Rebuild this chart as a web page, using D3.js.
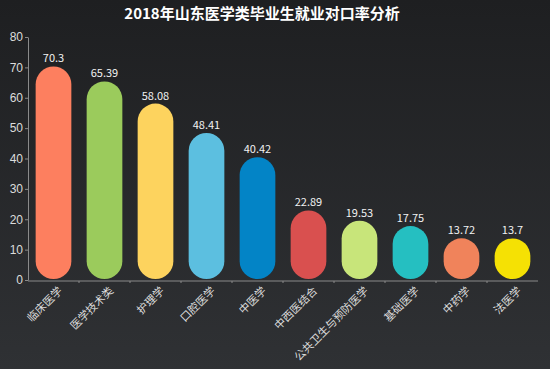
<!DOCTYPE html>
<html lang="zh">
<head>
    <meta charset="UTF-8">
    <title>2018年山东医学类毕业生就业对口率分析</title>
    <script src="https://d3js.org/d3.v7.min.js"></script>
    <style>
        html, body {
            margin: 0;
            padding: 0;
            overflow: hidden;
            font-family: "Noto Sans CJK SC", "Noto Sans", sans-serif;
        }
        .axis text {
            fill: #dcdcdc;
            font-size: 12px;
        }
        .axis line,
        .axis path {
            stroke: #8a8a8a;
            fill: none;
        }
        .value {
            fill: #f2f2f2;
            font-size: 11px;
            text-anchor: middle;
        }
    </style>
</head>
<body>
    <svg width="550" height="369"></svg>
    <script>
        var majors = ["临床医学", "医学技术类", "护理学", "口腔医学", "中医学",
                      "中西医结合", "公共卫生与预防医学", "基础医学", "中药学", "法医学"];
        var rates = [70.3, 65.39, 58.08, 48.41, 40.42, 22.89, 19.53, 17.75, 13.72, 13.7];
        var barColors = ["#fd7f5f", "#9bcb5c", "#fdd35e", "#5cbfe0", "#0384c6",
                         "#d9504f", "#c8e57a", "#25bfc1", "#f0835b", "#f5e104"];
        var yTicks = [0, 10, 20, 30, 40, 50, 60, 70, 80];

        var data = majors.map(function(m, i) {
            return {name: m, value: rates[i], color: barColors[i]};
        });

        var width = 550, height = 369;
        var margin = {top: 37, right: 12, bottom: 89, left: 28};

        var svg = d3.select("svg");

        // background gradient
        var defs = svg.append("defs");
        var grad = defs.append("linearGradient")
            .attr("id", "bg")
            .attr("x1", 0).attr("y1", 0).attr("x2", 0).attr("y2", 1);
        grad.append("stop").attr("offset", "0%").attr("stop-color", "#1e1f21");
        grad.append("stop").attr("offset", "100%").attr("stop-color", "#2f3134");
        svg.append("rect")
            .attr("width", width).attr("height", height)
            .attr("fill", "url(#bg)");

        svg.append("text")
            .attr("x", 262)
            .attr("y", 19)
            .attr("text-anchor", "middle")
            .style("fill", "#ffffff")
            .style("font-size", "15px")
            .style("font-weight", "bold")
            .text("2018年山东医学类毕业生就业对口率分析");

        var x = d3.scaleBand()
            .domain(majors)
            .range([margin.left, width - margin.right])
            .paddingInner(0.3)
            .paddingOuter(0.15);

        var y = d3.scaleLinear()
            .domain([0, 80])
            .range([height - margin.bottom, margin.top]);

        // y axis
        svg.append("g")
            .attr("class", "axis")
            .attr("transform", "translate(" + margin.left + ",0)")
            .call(d3.axisLeft(y).tickValues(yTicks).tickSize(3).tickSizeOuter(0).tickPadding(2));

        // x axis (ticks at band boundaries)
        var xAxis = svg.append("g")
            .attr("class", "axis")
            .attr("transform", "translate(0," + (height - margin.bottom + 1) + ")");
        xAxis.append("line")
            .attr("x1", margin.left).attr("x2", width - margin.right)
            .attr("y1", 0).attr("y2", 0);
        xAxis.selectAll(".tk")
            .data(majors.slice(1))
          .enter().append("line")
            .attr("class", "tk")
            .attr("x1", function(d) { return x(d) - x.step() * x.paddingInner() / 2; })
            .attr("x2", function(d) { return x(d) - x.step() * x.paddingInner() / 2; })
            .attr("y1", 0).attr("y2", 2);
        xAxis.selectAll(".lbl")
            .data(majors)
          .enter().append("text")
            .attr("class", "lbl")
            .attr("text-anchor", "end")
            .style("font-size", "11px")
            .attr("transform", function(d) {
                return "translate(" + (x(d) + x.bandwidth() / 2 + 4) + ",5) rotate(-45)";
            })
            .attr("dy", "0.7em")
            .text(function(d) { return d; });

        // bars
        svg.append("g")
            .selectAll("rect")
            .data(data)
          .enter().append("rect")
            .attr("x", function(d) { return x(d.name); })
            .attr("y", function(d) { return y(d.value); })
            .attr("width", x.bandwidth())
            .attr("height", function(d) { return y(0) - y(d.value) - 1; })
            .attr("rx", x.bandwidth() / 2)
            .attr("ry", x.bandwidth() / 2)
            .attr("fill", function(d) { return d.color; });

        // value labels
        svg.append("g")
            .selectAll(".value")
            .data(data)
          .enter().append("text")
            .attr("class", "value")
            .attr("x", function(d) { return x(d.name) + x.bandwidth() / 2; })
            .attr("y", function(d) { return y(d.value) - 4; })
            .text(function(d) { return d.value; });
    </script>
</body>
</html>
